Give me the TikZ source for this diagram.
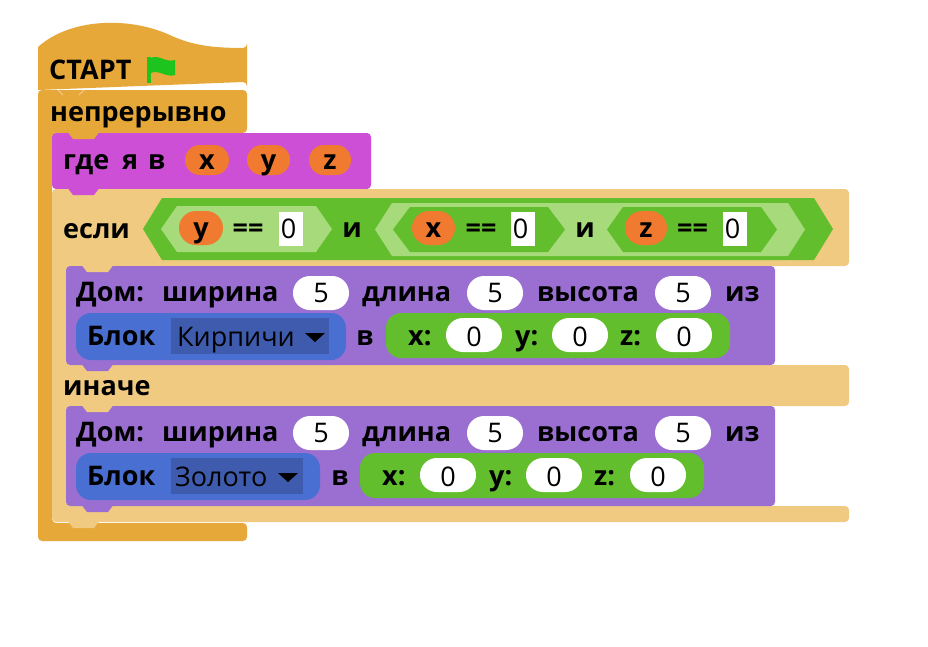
\documentclass[tikz,border=0pt]{standalone}
\usepackage{fontspec}
\setmainfont{Open Sans}
\definecolor{hatC}{HTML}{E6A839}
\definecolor{ifC}{HTML}{F0CA80}
\definecolor{magC}{HTML}{CC4FD6}
\definecolor{purC}{HTML}{9A6FD1}
\definecolor{bluC}{HTML}{4A6FD3}
\definecolor{dropC}{HTML}{3F5BAE}
\definecolor{grnC}{HTML}{63BE2D}
\definecolor{lgrnC}{HTML}{A6DA7A}
\definecolor{pillC}{HTML}{F07A30}
\definecolor{flagC}{HTML}{1EC41E}
\newcommand\lblfont{\fontsize{27}{27}\selectfont\bfseries}
\newcommand\numfont{\fontsize{27}{27}\selectfont}
\newcommand\bmp[3]{\fill[#1] ({#2+16},{#3-0.5}) -- ({#2+21},{#3+6}) -- ({#2+42},{#3+6}) -- ({#2+47},{#3-0.5}) -- cycle;}
\newcommand\hexa[6]{\fill[#1] (#2,{(#4+#5)/2}) -- ({#2+#6},#4) -- ({#3-#6},#4) -- (#3,{(#4+#5)/2}) -- ({#3-#6},#5) -- ({#2+#6},#5) -- cycle;}
\newcommand\pil[6]{\fill[#1, rounded corners=#6] (#2,#3) rectangle (#4,#5);}
\tikzset{
  lb/.style={anchor=base west, inner sep=0pt, font=\lblfont},
  lbc/.style={anchor=base, inner sep=0pt, font=\lblfont},
  num/.style={anchor=base, inner sep=0pt, font=\numfont},
  numw/.style={anchor=base west, inner sep=0pt, font=\numfont},
}
\begin{document}
\begin{tikzpicture}[x=1pt,y=-1pt]
\useasboundingbox[fill=white] (0,0) rectangle (928,646);
% hat
\fill[hatC] (38,95) -- (38,47) .. controls (70,18) and (130,16) .. (172,36) .. controls (192,45) and (212,48) .. (243,48)
  arc[start angle=90,end angle=0,radius=4] -- (247,86) arc[start angle=0,end angle=-90,radius=4] -- (38,90) -- cycle;
% forever
\fill[hatC, rounded corners=4] (38,90) -- (247,90) -- (247,133) -- (52,133) -- (52,523) -- (247,523) -- (247,541) -- (38,541) -- cycle;
\draw[white, opacity=0.45, line width=0.8] (57,89) -- (63,95) (79,95) -- (85,89);
% flag
\fill[flagC] (147,57) rectangle (151,83);
\fill[flagC] (151,58) .. controls (158,54) and (166,63) .. (175,60) -- (175,75) .. controls (166,78) and (158,69) .. (151,73) -- cycle;
% magenta
\fill[magC, rounded corners=4] (52,133) rectangle (371,189);
% if-else
\fill[ifC, rounded corners=4] (52,189) -- (849,189) -- (849,266) -- (66,266) -- (66,365) -- (849,365) -- (849,406) -- (66,406) -- (66,506) -- (849,506) -- (849,522) -- (52,522) -- cycle;
% purple blocks
\fill[purC, rounded corners=4] (66,266) rectangle (775,365);
\fill[purC, rounded corners=4] (66,406) rectangle (775,506);
% bumps
\bmp{hatC}{52}{133}
\bmp{magC}{52}{189}
\bmp{ifC}{66}{266}
\bmp{purC}{66}{365}
\bmp{ifC}{66}{406}
\bmp{purC}{66}{506}
\bmp{ifC}{52}{522}
% condition
\hexa{grnC}{143}{833}{198}{260}{19}
\hexa{lgrnC}{161}{332}{206}{252}{16}
\hexa{lgrnC}{375}{805}{203}{256}{17}
\hexa{grnC}{393}{565}{207}{252}{17}
\hexa{grnC}{607}{777}{207}{252}{16}
\pil{pillC}{179}{211}{223}{245}{16.9}
\pil{pillC}{412}{211}{455}{245}{16.9}
\pil{pillC}{625}{211}{667}{245}{16.9}
\fill[white] (279,212) rectangle (303,246);
\fill[white] (511,212) rectangle (535,246);
\fill[white] (723,212) rectangle (747,246);
% pills in magenta
\pil{pillC}{185}{145}{229}{175}{14.9}
\pil{pillC}{247}{145}{290}{175}{14.9}
\pil{pillC}{309}{145}{351}{175}{14.9}
% row slots
\foreach \dy/\nm in {0/a,140/b}{
  \pil{white}{293}{276+\dy}{349}{310+\dy}{16.9}
  \pil{white}{467}{276+\dy}{523}{310+\dy}{16.9}
  \pil{white}{655}{276+\dy}{711}{310+\dy}{16.9}
}
% reporters block 1
\pil{bluC}{76}{313}{346}{360}{15}
\fill[dropC] (171,318) rectangle (329,354);
\fill[black] (305,333) -- (325,333) -- (315,342) -- cycle;
\pil{grnC}{386}{313}{730}{358}{15}
\pil{white}{446}{318}{502}{352}{16.9}
\pil{white}{552}{318}{608}{352}{16.9}
\pil{white}{656}{318}{712}{352}{16.9}
% reporters block 2
\pil{bluC}{76}{453}{320}{500}{15}
\fill[dropC] (171,458) rectangle (303,494);
\fill[black] (278,473) -- (298,473) -- (288,482) -- cycle;
\pil{grnC}{360}{453}{704}{498}{15}
\pil{white}{420}{458}{476}{492}{16.9}
\pil{white}{526}{458}{582}{492}{16.9}
\pil{white}{630}{458}{686}{492}{16.9}
% texts
\node[lb] (start) at (49,79) {СТАРТ};
\node[lb] (forever) at (50,121) {непрерывно};
\node[lb] (w1) at (63,169) {где};
\node[lb] (w2) at (122,169) {я};
\node[lb] (w3) at (148,169) {в};
\node[lbc] (vx) at (207,169) {x};
\node[lbc] (vy) at (268.5,169) {y};
\node[lbc] (vz) at (330,169) {z};
\node[lb] (if) at (63,238) {если};
\node[lbc] (cy) at (201,237) {y};
\node[lbc] (e1) at (248,237) {==};
\node[num] (n1) at (288.5,238) {0};
\node[lbc] (and1) at (352,237) {и};
\node[lbc] (cx) at (433.5,237) {x};
\node[lbc] (e2) at (481,237) {==};
\node[num] (n2) at (520.5,238) {0};
\node[lbc] (and2) at (585,237) {и};
\node[lbc] (cz) at (646,237) {z};
\node[lbc] (e3) at (692.5,237) {==};
\node[num] (n3) at (732.5,238) {0};
\node[lb] (else) at (63,395) {иначе};
\foreach \dy/\nm in {0/a,140/b}{
  \node[lb] (dom\nm) at (76,301+\dy) {Дом:};
  \node[lb] (wid\nm) at (162,301+\dy) {ширина};
  \node[num] (sw\nm) at (321,302+\dy) {5};
  \node[lb] (len\nm) at (362,301+\dy) {длина};
  \node[num] (sl\nm) at (495,302+\dy) {5};
  \node[lb] (hei\nm) at (537,301+\dy) {высота};
  \node[num] (sh\nm) at (683,302+\dy) {5};
  \node[lb] (from\nm) at (725,301+\dy) {из};
  \node[lb] (blk\nm) at (87,345+\dy) {Блок};
}
\node[numw] (mat1) at (177,346) {Кирпичи};
\node[lbc] (in1) at (365,345) {в};
\node[lb] (px1) at (408,345) {x:};
\node[num] (px1v) at (474,346) {0};
\node[lb] (py1) at (515,345) {y:};
\node[num] (py1v) at (580,346) {0};
\node[lb] (pz1) at (620,345) {z:};
\node[num] (pz1v) at (684,346) {0};
\node[numw] (mat2) at (175,486) {Золото};
\node[lbc] (in2) at (340,485) {в};
\node[lb] (px2) at (382,485) {x:};
\node[num] (px2v) at (448,486) {0};
\node[lb] (py2) at (489,485) {y:};
\node[num] (py2v) at (554,486) {0};
\node[lb] (pz2) at (594,485) {z:};
\node[num] (pz2v) at (658,486) {0};
\end{tikzpicture}
\end{document}
